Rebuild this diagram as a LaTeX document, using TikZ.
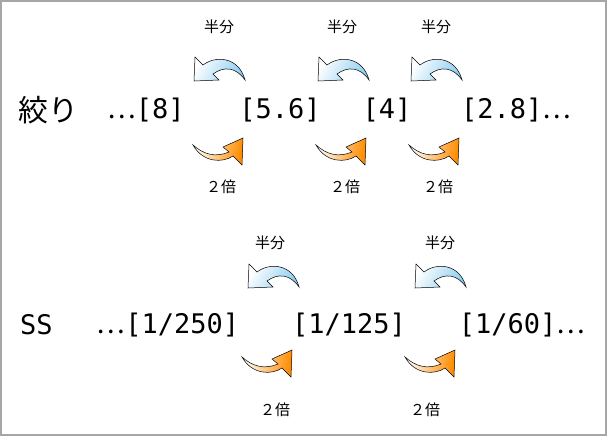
\documentclass[tikz,border=0pt]{standalone}
\usepackage{fontspec}
\setmainfont{Noto Sans CJK JP}
\newfontfamily\monof{DejaVu Sans Mono}
\newcommand{\myell}{{\rmfamily …}}
\begin{document}
\begin{tikzpicture}[x=1pt,y=-1pt,
  big/.style={font=\monof\fontsize{27}{30}\selectfont,inner sep=0pt},
  bigj/.style={font=\fontsize{30}{32}\selectfont,inner sep=0pt},
  small/.style={font=\fontsize{15}{17}\selectfont,inner sep=0pt},
  half/.pic={\path[draw=black,line width=0.5pt,left color=white,right color={rgb,255:red,140;green,205;blue,240},shading angle=60]
     (1,2) -- (9,10) .. controls (22,0) and (45,2) .. (51,25)
     .. controls (42,12) and (30,11) .. (19,19) -- (25,25) -- (0,26) -- cycle;},
  dbl/.pic={\path[draw=black,line width=0.5pt,left color=white,right color=orange!90!yellow,shading angle=80]
     (0,7) .. controls (10,25) and (30,25) .. (40,18) -- (49,27) -- (50,0) -- (30,9) -- (36,14)
     .. controls (22,20) and (10,16) .. (0,7) -- cycle;}]
\draw[gray!70,line width=2pt,fill=white] (1,1) rectangle (606,435);
\useasboundingbox (0,0) rectangle (607,436);
% row 1
\node[bigj,anchor=west] (kd) at (18,110) {絞り};
\node[big] (a8) at (146,110) {\myell[8]};
\node[big] (a56) at (280,110) {[5.6]};
\node[big] (a4) at (387,110) {[4]};
\node[big] (a28) at (516,110) {[2.8]\myell};
\foreach \x/\lx/\n in {194/219/1,318/342/2,411/436/3}{
  \pic at (\x,55) {half};
  \node[small] (h\n) at (\lx,27) {半分};
}
\foreach \x/\lx/\n in {193/221/1,316/345/2,409/438/3}{
  \pic at (\x,138) {dbl};
  \node[small] (d\n) at (\lx,187) {２倍};
}
% row 2
\node[big,anchor=west] (ss) at (20,325) {SS};
\node[big] (b250) at (168,325) {\myell[1/250]};
\node[big] (b125) at (349,325) {[1/125]};
\node[big] (b60) at (522,325) {[1/60]\myell};
\foreach \x/\lx/\n in {248/270/4,415/440/5}{
  \pic at (\x,262) {half};
  \node[small] (h\n) at (\lx,243) {半分};
}
\foreach \x/\lx/\n in {242/275/4,405/425/5}{
  \pic at (\x,350) {dbl};
  \node[small] (d\n) at (\lx,410) {２倍};
}
\end{tikzpicture}
\end{document}
